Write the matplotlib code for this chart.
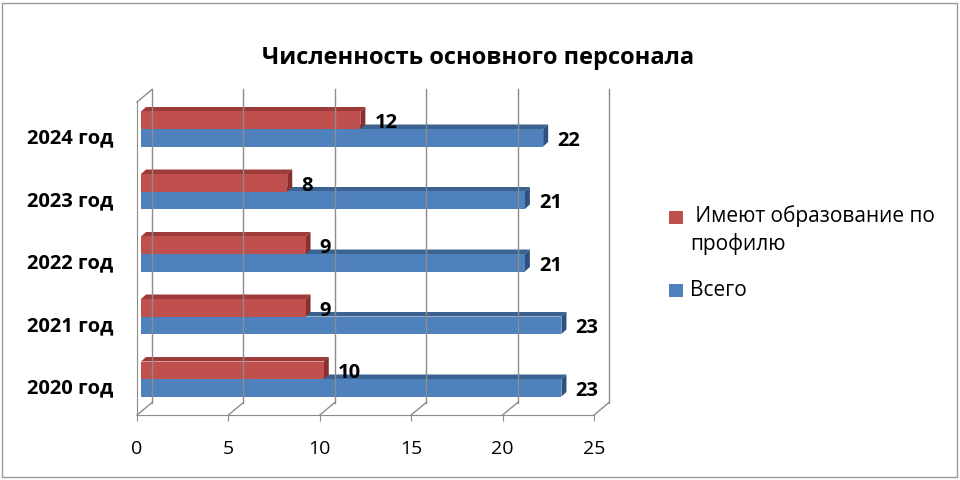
import numpy as np
import matplotlib
matplotlib.use('Agg')
from matplotlib import pyplot as plt
from matplotlib.patches import Polygon, Rectangle

plt.rcParams['font.family'] = ['Open Sans', 'DejaVu Sans']

# data
years = ['2020 год', '2021 год', '2022 год', '2023 год', '2024 год']
vsego = [23, 23, 21, 21, 22]          # Всего
profil = [10, 9, 9, 8, 12]            # Имеют образование по профилю
title = 'Численность основного персонала'
lab_red = ' Имеют образование по\nпрофилю'
lab_blue = 'Всего'

red, red_top, red_side = '#C0504D', '#9C3B39', '#8A2F2D'
blue, blue_top, blue_side = '#4F81BD', '#3B6291', '#2E5180'
grid = '#8C8C8C'

fig = plt.figure(figsize=(9.6, 4.8), dpi=100)
# axes placed so that front floor edge is at px 415, top of wall at px 102
ax = fig.add_axes([137/960, 1-415/480, (594-137)/960, (415-102)/480])
ylo, yhi = (379-415)/62.5, (379-102)/62.5
ax.set_xlim(0, 25)
ax.set_ylim(ylo, yhi)

# depth of the back wall and of the bars (data units)
ddx, ddy = 15/18.28, 12.5/62.5
x0 = 4/18.28            # bars sit a bit behind the front plane
bdx, bdy = 5/18.28, 4.5/62.5
bh = 17.5/62.5

# back wall grid + floor diagonals
for k in range(0, 26, 5):
    ax.plot([k+ddx, k+ddx], [ylo+ddy, yhi+ddy], color=grid, lw=1, clip_on=False)
    ax.plot([k, k+ddx], [ylo, ylo+ddy], color=grid, lw=1, clip_on=False)
ax.plot([0, ddx], [yhi, yhi+ddy], color=grid, lw=1, clip_on=False)

def bar3d(v, yb, front, top, side):
    xs, xe = x0, x0+v
    yt = yb+bh
    ax.add_patch(Polygon([(xs, yt), (xe, yt), (xe+bdx, yt+bdy), (xs+bdx, yt+bdy)],
                         closed=True, fc=top, ec='none', clip_on=False))
    ax.add_patch(Polygon([(xe, yb), (xe, yt), (xe+bdx, yt+bdy), (xe+bdx, yb+bdy)],
                         closed=True, fc=side, ec='none', clip_on=False))
    ax.add_patch(Rectangle((xs, yb), v, bh, fc=front, ec='none', clip_on=False))

for i in range(len(years)):
    bar3d(vsego[i], i-bh, blue, blue_top, blue_side)
    bar3d(profil[i], i, red, red_top, red_side)
    ax.text(vsego[i]+1.0, i-0.19, str(vsego[i]), ha='left', va='center',
            fontsize=14.5, fontweight='bold')
    ax.text(profil[i]+1.0, i+0.09, str(profil[i]), ha='left', va='center',
            fontsize=14.5, fontweight='bold')

# axes look
for s in ['top', 'right']:
    ax.spines[s].set_visible(False)
for s in ['bottom', 'left']:
    ax.spines[s].set_color(grid)
ax.set_xticks(range(0, 26, 5))
ax.tick_params(axis='x', length=4, color=grid, labelsize=14, pad=14)
ax.set_yticks(np.arange(len(years))-0.11)
ax.set_yticklabels(years, fontsize=14.5, fontweight='bold')
ax.tick_params(axis='y', length=0, pad=17)
ax.set_facecolor('none')

fig.text(478/960, 1-58/480, title, ha='center', va='center', fontsize=17, fontweight='bold')

# legend
fig.patches.append(Rectangle((669/960, 1-224/480), 14/960, 13/480, fc=red, ec='none',
                             transform=fig.transFigure))
fig.patches.append(Rectangle((669/960, 1-297/480), 14/960, 13/480, fc=blue, ec='none',
                             transform=fig.transFigure))
fig.text(690/960, 1-230/480, lab_red, ha='left', va='center', fontsize=15, linespacing=1.35)
fig.text(690/960, 1-290/480, lab_blue, ha='left', va='center', fontsize=15)

fig.patches.append(Rectangle((2/960, 3/480), 955/960, 474/480, fill=False, ec='#9A9A9A',
                             lw=1, transform=fig.transFigure))

plt.savefig('out.png', dpi=100)
